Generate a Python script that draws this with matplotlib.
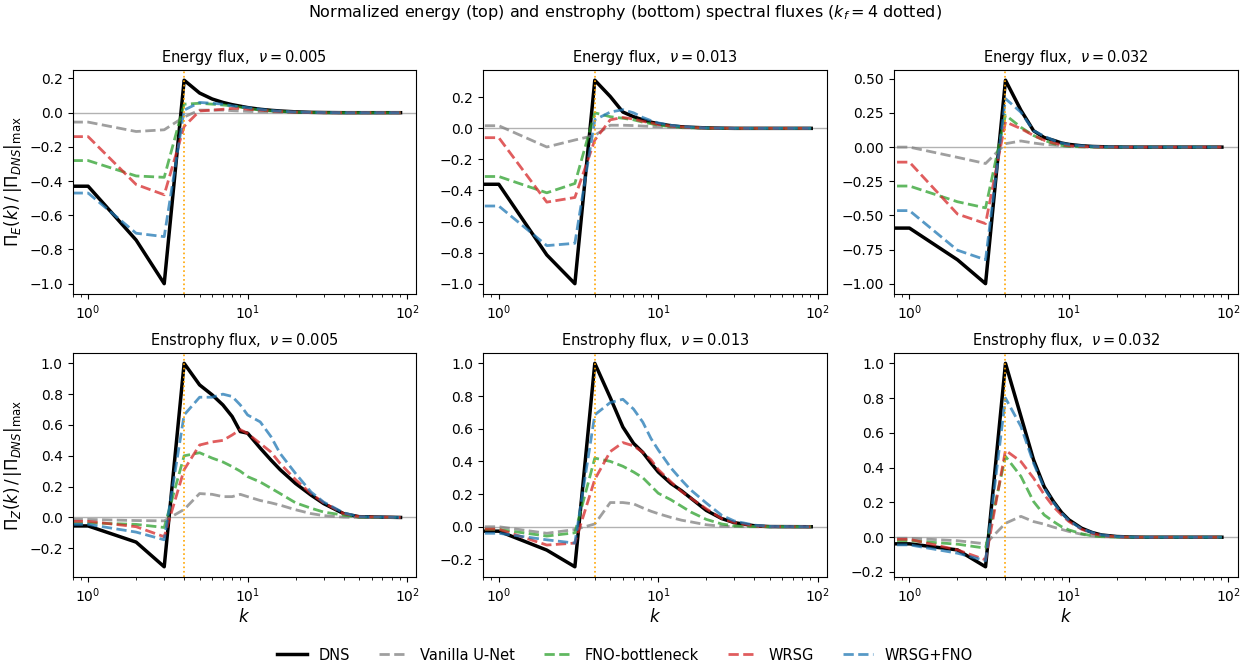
import numpy as np
import matplotlib
matplotlib.use("Agg")
import matplotlib.pyplot as plt

# wavenumbers (k=0 is clipped on the log axis -> flat start at the left edge)
k = [0, 1, 2, 3, 4, 5, 6, 7, 8, 9, 10, 12, 14, 16, 20, 25, 30, 40, 50, 91]
nus = ["0.005", "0.013", "0.032"]
labels = ["DNS", "Vanilla U-Net", "FNO-bottleneck", "WRSG", "WRSG+FNO"]

# ---- energy flux, nu = 0.005
e1_dns = [-0.43, -0.43, -0.745, -1.0, 0.19, 0.115, 0.08, 0.06, 0.047, 0.038, 0.03, 0.02, 0.014, 0.01, 0.005, 0.002, 0.001, 0, 0, 0]
e1_unet = [-0.055, -0.055, -0.11, -0.10, -0.025, 0.015, 0.015, 0.015, 0.012, 0.01, 0.008, 0.005, 0.004, 0.003, 0.002, 0.001, 0, 0, 0, 0]
e1_fno = [-0.28, -0.28, -0.37, -0.378, 0.05, 0.055, 0.05, 0.045, 0.04, 0.032, 0.025, 0.015, 0.01, 0.007, 0.003, 0.001, 0, 0, 0, 0]
e1_wrsg = [-0.14, -0.14, -0.42, -0.48, -0.08, 0.01, 0.015, 0.02, 0.025, 0.025, 0.02, 0.015, 0.01, 0.007, 0.003, 0.001, 0, 0, 0, 0]
e1_wfno = [-0.47, -0.47, -0.705, -0.725, 0.015, 0.06, 0.055, 0.05, 0.04, 0.035, 0.03, 0.02, 0.013, 0.009, 0.004, 0.002, 0.001, 0, 0, 0]

# ---- energy flux, nu = 0.013
e2_dns = [-0.36, -0.36, -0.815, -1.0, 0.31, 0.205, 0.105, 0.075, 0.055, 0.04, 0.03, 0.017, 0.01, 0.007, 0.003, 0.001, 0, 0, 0, 0]
e2_unet = [0.017, 0.017, -0.12, -0.075, -0.045, 0.02, 0.02, 0.018, 0.015, 0.012, 0.01, 0.006, 0.004, 0.003, 0.001, 0, 0, 0, 0, 0]
e2_fno = [-0.31, -0.31, -0.415, -0.355, 0.10, 0.075, 0.065, 0.055, 0.04, 0.03, 0.02, 0.012, 0.007, 0.004, 0.002, 0, 0, 0, 0, 0]
e2_wrsg = [-0.06, -0.06, -0.475, -0.445, -0.075, 0.055, 0.07, 0.06, 0.045, 0.035, 0.025, 0.015, 0.009, 0.006, 0.002, 0.001, 0, 0, 0, 0]
e2_wfno = [-0.50, -0.50, -0.755, -0.74, 0.055, 0.105, 0.12, 0.10, 0.07, 0.05, 0.035, 0.02, 0.012, 0.008, 0.003, 0.001, 0, 0, 0, 0]

# ---- energy flux, nu = 0.032
e3_dns = [-0.593, -0.593, -0.825, -1.0, 0.49, 0.27, 0.12, 0.07, 0.05, 0.03, 0.02, 0.01, 0.005, 0.003, 0.001, 0, 0, 0, 0, 0]
e3_unet = [0.0, 0.0, -0.075, -0.12, 0.025, 0.045, 0.03, 0.02, 0.015, 0.01, 0.005, 0.002, 0.001, 0, 0, 0, 0, 0, 0, 0]
e3_fno = [-0.285, -0.285, -0.40, -0.445, 0.235, 0.145, 0.085, 0.05, 0.025, 0.012, 0.005, 0.002, 0.001, 0, 0, 0, 0, 0, 0, 0]
e3_wrsg = [-0.11, -0.11, -0.49, -0.56, 0.185, 0.135, 0.085, 0.05, 0.03, 0.018, 0.01, 0.004, 0.002, 0.001, 0, 0, 0, 0, 0, 0]
e3_wfno = [-0.465, -0.465, -0.755, -0.825, 0.355, 0.255, 0.12, 0.08, 0.05, 0.03, 0.02, 0.01, 0.005, 0.003, 0.001, 0, 0, 0, 0, 0]

# ---- enstrophy flux, nu = 0.005
z1_dns = [-0.055, -0.055, -0.16, -0.32, 1.0, 0.86, 0.795, 0.73, 0.655, 0.557, 0.547, 0.45, 0.373, 0.31, 0.22, 0.145, 0.09, 0.025, 0.005, 0]
z1_unet = [-0.013, -0.013, -0.02, -0.022, 0.052, 0.155, 0.15, 0.135, 0.135, 0.15, 0.135, 0.11, 0.095, 0.08, 0.05, 0.025, 0.012, 0.002, 0, 0]
z1_fno = [-0.035, -0.035, -0.045, -0.065, 0.40, 0.42, 0.385, 0.36, 0.33, 0.30, 0.265, 0.23, 0.19, 0.155, 0.095, 0.06, 0.035, 0.015, 0.002, 0]
z1_wrsg = [-0.025, -0.025, -0.06, -0.125, 0.31, 0.47, 0.49, 0.50, 0.535, 0.57, 0.545, 0.48, 0.425, 0.35, 0.245, 0.155, 0.095, 0.025, 0.005, 0]
z1_wfno = [-0.045, -0.045, -0.095, -0.145, 0.665, 0.78, 0.78, 0.80, 0.785, 0.73, 0.665, 0.62, 0.525, 0.415, 0.285, 0.165, 0.10, 0.03, 0.005, 0]

# ---- enstrophy flux, nu = 0.013
z2_dns = [-0.027, -0.027, -0.143, -0.245, 1.0, 0.79, 0.61, 0.51, 0.455, 0.39, 0.335, 0.265, 0.22, 0.175, 0.10, 0.05, 0.025, 0.006, 0.001, 0]
z2_unet = [0.0, 0.0, -0.04, -0.017, 0.017, 0.148, 0.148, 0.14, 0.115, 0.095, 0.08, 0.057, 0.04, 0.03, 0.012, 0.003, 0.001, 0, 0, 0]
z2_fno = [-0.017, -0.017, -0.057, -0.037, 0.42, 0.40, 0.37, 0.335, 0.30, 0.25, 0.205, 0.165, 0.125, 0.09, 0.045, 0.017, 0.005, 0.001, 0, 0]
z2_wrsg = [-0.015, -0.015, -0.112, -0.10, 0.29, 0.46, 0.515, 0.495, 0.455, 0.41, 0.35, 0.275, 0.215, 0.175, 0.11, 0.05, 0.025, 0.005, 0.001, 0]
z2_wfno = [-0.04, -0.04, -0.08, -0.10, 0.685, 0.76, 0.78, 0.72, 0.64, 0.54, 0.47, 0.36, 0.285, 0.225, 0.145, 0.07, 0.035, 0.01, 0.002, 0]

# ---- enstrophy flux, nu = 0.032
z3_dns = [-0.038, -0.038, -0.073, -0.17, 1.0, 0.695, 0.445, 0.29, 0.205, 0.142, 0.10, 0.052, 0.027, 0.013, 0.004, 0.001, 0, 0, 0, 0]
z3_unet = [-0.006, -0.006, -0.02, -0.038, 0.08, 0.12, 0.09, 0.075, 0.058, 0.045, 0.033, 0.017, 0.008, 0.003, 0.001, 0, 0, 0, 0, 0]
z3_fno = [-0.02, -0.02, -0.04, -0.063, 0.465, 0.35, 0.205, 0.128, 0.09, 0.06, 0.042, 0.02, 0.008, 0.003, 0.001, 0, 0, 0, 0, 0]
z3_wrsg = [-0.012, -0.012, -0.073, -0.13, 0.50, 0.435, 0.34, 0.245, 0.175, 0.128, 0.09, 0.046, 0.022, 0.01, 0.002, 0, 0, 0, 0, 0]
z3_wfno = [-0.044, -0.044, -0.092, -0.135, 0.80, 0.637, 0.426, 0.282, 0.20, 0.138, 0.096, 0.048, 0.027, 0.013, 0.004, 0.001, 0, 0, 0, 0]

energy = [
    [e1_dns, e1_unet, e1_fno, e1_wrsg, e1_wfno],
    [e2_dns, e2_unet, e2_fno, e2_wrsg, e2_wfno],
    [e3_dns, e3_unet, e3_fno, e3_wrsg, e3_wfno],
]
enstrophy = [
    [z1_dns, z1_unet, z1_fno, z1_wrsg, z1_wfno],
    [z2_dns, z2_unet, z2_fno, z2_wrsg, z2_wfno],
    [z3_dns, z3_unet, z3_fno, z3_wrsg, z3_wfno],
]

colors = ["black", "tab:gray", "tab:green", "tab:red", "tab:blue"]

fig, axes = plt.subplots(2, 3, figsize=(12.5, 6.67), dpi=100)
fig.subplots_adjust(left=0.058, right=0.99, bottom=0.135, top=0.895,
                    wspace=0.195, hspace=0.265)

for row, (data, name) in enumerate([(energy, "Energy flux"), (enstrophy, "Enstrophy flux")]):
    for col in range(3):
        ax = axes[row, col]
        ax.axhline(0, color="gray", lw=1, alpha=0.6)
        for i, series in enumerate(data[col]):
            if i == 0:
                ax.plot(k, series, color="black", lw=2.5, label=labels[i])
            else:
                ax.plot(k, series, color=colors[i], ls="--", lw=2, alpha=0.75, label=labels[i])
        ax.axvline(4, color="orange", ls=":", lw=1.2)
        ax.set_xscale("log")
        ax.set_title(f"{name},  $\\nu={nus[col]}$", fontsize=10.5)
        if row == 1:
            ax.set_xlabel("$k$", fontsize=12, labelpad=2)

axes[0, 0].set_ylabel(r"$\Pi_E(k)\,/\,|\Pi_{DNS}|_{\max}$", fontsize=12)
axes[1, 0].set_ylabel(r"$\Pi_Z(k)\,/\,|\Pi_{DNS}|_{\max}$", fontsize=12)

fig.suptitle(r"Normalized energy (top) and enstrophy (bottom) spectral fluxes ($k_f=4$ dotted)",
             fontsize=11.5, y=0.995)
handles, labs = axes[0, 0].get_legend_handles_labels()
fig.legend(handles, labs, loc="lower center", bbox_to_anchor=(0.5, -0.013), ncol=5,
           frameon=False, fontsize=10.5)

fig.savefig("out.png")
